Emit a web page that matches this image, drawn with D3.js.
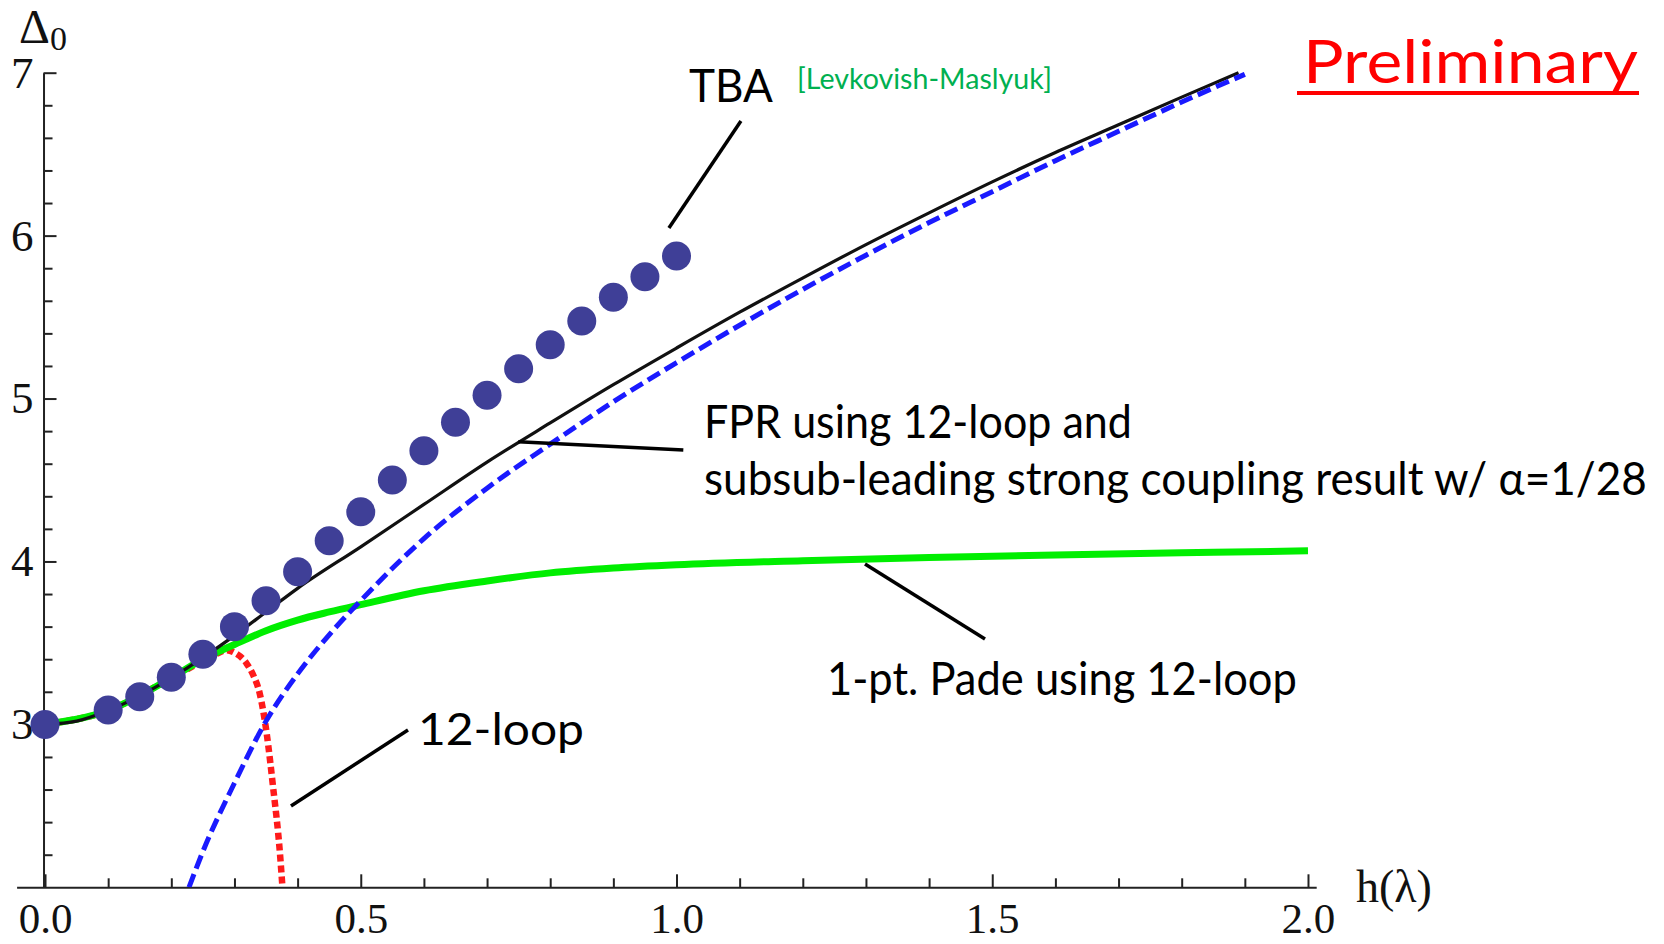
<!DOCTYPE html>
<html>
<head>
<meta charset="utf-8">
<script src="https://cdn.jsdelivr.net/npm/d3@7"></script>
<style>
  html, body { margin: 0; padding: 0; background: #fff; }
  svg { display: block; }
</style>
</head>
<body>
<div id="chart"></div>
<script>
// TBA data points (h, Delta0)
const tbaH = [0, 0.1, 0.15, 0.2, 0.25, 0.3, 0.35, 0.4, 0.45, 0.5, 0.55, 0.6, 0.65, 0.7, 0.75, 0.8, 0.85, 0.9, 0.95, 1.0];
const tbaD = [3.0, 3.088, 3.17, 3.29, 3.43, 3.60, 3.759, 3.937, 4.127, 4.305, 4.50, 4.68, 4.854, 5.02, 5.183, 5.33, 5.476, 5.621, 5.748, 5.875];

// FPR (black solid)
const fprH = [0, 0.05, 0.1, 0.15, 0.2, 0.25, 0.3, 0.35, 0.4, 0.5, 0.6, 0.7, 0.8, 0.9, 1.0, 1.1, 1.2, 1.3, 1.4, 1.5, 1.6, 1.7, 1.8, 1.89];
const fprD = [3.0, 3.02, 3.085, 3.175, 3.285, 3.41, 3.545, 3.69, 3.835, 4.09, 4.35, 4.61, 4.85, 5.085, 5.31, 5.53, 5.74, 5.945, 6.14, 6.33, 6.51, 6.68, 6.85, 7.0];

// strong coupling (blue dashed)
const strongH = [0.228, 0.25, 0.3, 0.35, 0.4, 0.45, 0.5, 0.6, 0.7, 0.8, 0.9, 1.0, 1.1, 1.2, 1.3, 1.4, 1.5, 1.6, 1.7, 1.8, 1.9];
const strongD = [2.0, 2.22, 2.64, 3.02, 3.31, 3.55, 3.76, 4.14, 4.45, 4.72, 4.98, 5.22, 5.45, 5.67, 5.88, 6.08, 6.27, 6.46, 6.64, 6.82, 6.99];

// 1-pt Pade (green)
const padeH = [0, 0.1, 0.2, 0.25, 0.3, 0.35, 0.4, 0.45, 0.5, 0.6, 0.7, 0.8, 0.9, 1.0, 1.2, 1.4, 1.6, 1.8, 2.0];
const padeD = [3.0, 3.085, 3.285, 3.40, 3.49, 3.575, 3.64, 3.69, 3.735, 3.82, 3.88, 3.93, 3.96, 3.98, 4.005, 4.025, 4.04, 4.053, 4.065];

// 12-loop (red dotted)
const loopH = [0, 0.1, 0.2, 0.25, 0.27, 0.288, 0.3, 0.319, 0.33, 0.34, 0.351, 0.361, 0.372, 0.376];
const loopD = [3.0, 3.085, 3.285, 3.39, 3.43, 3.455, 3.44, 3.375, 3.30, 3.19, 2.945, 2.62, 2.21, 2.0];

const xMajor = [0, 0.5, 1.0, 1.5, 2.0];
const xMinor = [0.1, 0.2, 0.3, 0.4, 0.6, 0.7, 0.8, 0.9, 1.1, 1.2, 1.3, 1.4, 1.6, 1.7, 1.8, 1.9];
const yMajor = [3, 4, 5, 6, 7];
const yMinor = [2.2, 2.4, 2.6, 2.8, 3.2, 3.4, 3.6, 3.8, 4.2, 4.4, 4.6, 4.8, 5.2, 5.4, 5.6, 5.8, 6.2, 6.4, 6.6, 6.8];

// leader lines, in data units
const leaders = [
  [[1.102, 6.704], [0.988, 6.047]],
  [[0.7495, 4.735], [1.0108, 4.684]],
  [[1.2985, 3.984], [1.4885, 3.524]],
  [[0.5748, 2.966], [0.3895, 2.499]]
];

const W = 1664, H = 944;
const svg = d3.select("#chart").append("svg").attr("width", W).attr("height", H);

const x = d3.scaleLinear().domain([-0.045, 2.013]).range([16.6, 1316.2]);
const y = d3.scaleLinear().domain([2, 7]).range([887.3, 72.7]);

svg.append("defs").append("clipPath").attr("id", "plot")
  .append("rect").attr("x", x(0) - 20).attr("y", y(7) - 2)
  .attr("width", x(2.013) - x(0) + 20).attr("height", y(2) - y(7) + 2);

const zip = (a, b) => a.map((v, i) => [v, b[i]]);
const line = d3.line().x(d => x(d[0])).y(d => y(d[1])).curve(d3.curveMonotoneX);

// axes
const serif = "'Liberation Serif', 'Times New Roman', serif";
const axisStyle = g => {
  g.selectAll("path, line").attr("stroke", "#222").attr("stroke-width", 2);
  g.selectAll("text").attr("font-family", serif).attr("font-size", 43).attr("fill", "#111");
};

const gx = svg.append("g").attr("transform", `translate(0,${y(2)})`);
gx.call(d3.axisBottom(x).tickValues(xMajor).tickSize(-13).tickSizeOuter(0).tickFormat(d3.format(".1f")))
  .call(axisStyle);
gx.selectAll("text").attr("y", 46).attr("dy", null);
gx.append("g").call(d3.axisBottom(x).tickValues(xMinor).tickSize(-9).tickFormat(""))
  .call(g => g.select(".domain").remove()).call(axisStyle);

const gy = svg.append("g").attr("transform", `translate(${x(0) - 1.5},0)`);
gy.call(d3.axisLeft(y).tickValues(yMajor).tickSize(-13).tickSizeOuter(0).tickPadding(10).tickFormat(d3.format("d")))
  .call(axisStyle);
gy.selectAll("text").attr("font-size", 45);
gy.append("g").call(d3.axisLeft(y).tickValues(yMinor).tickSize(-9).tickFormat(""))
  .call(g => g.select(".domain").remove()).call(axisStyle);

// axis labels
const yl = svg.append("text").attr("x", 19).attr("y", 43).attr("font-family", serif).attr("font-size", 48).attr("fill", "#111");
yl.append("tspan").text("\u0394");
yl.append("tspan").attr("font-size", 34).attr("dy", 7).text("0");
svg.append("text").attr("x", 1356).attr("y", 902).attr("font-family", serif).attr("font-size", 46)
  .attr("fill", "#111").text("h(\u03bb)");

// curves: 12-loop sits beneath the others
const plot = svg.append("g").attr("clip-path", "url(#plot)");
plot.append("path").datum(zip(loopH, loopD)).attr("d", line)
  .attr("fill", "none").attr("stroke", "#ff1a1a").attr("stroke-width", 6.5).attr("stroke-dasharray", "7,4");
plot.append("path").datum(zip(padeH, padeD)).attr("d", line)
  .attr("fill", "none").attr("stroke", "#00ee00").attr("stroke-width", 7);
plot.append("path").datum(zip(fprH, fprD)).attr("d", line)
  .attr("fill", "none").attr("stroke", "#111").attr("stroke-width", 3.2);
plot.append("path").datum(zip(strongH, strongD)).attr("d", line)
  .attr("fill", "none").attr("stroke", "#1a1aff").attr("stroke-width", 5).attr("stroke-dasharray", "14,6");

svg.append("g").selectAll("circle").data(zip(tbaH, tbaD)).enter().append("circle")
  .attr("cx", d => x(d[0])).attr("cy", d => y(d[1])).attr("r", 14.5)
  .attr("fill", "#3f3f97");

// leader lines
svg.append("g").selectAll("line").data(leaders).enter().append("line")
  .attr("x1", d => x(d[0][0])).attr("y1", d => y(d[0][1]))
  .attr("x2", d => x(d[1][0])).attr("y2", d => y(d[1][1]))
  .attr("stroke", "#000").attr("stroke-width", 3.5);

// annotation text, squeezed horizontally to the reference width
const sans = "Lato, 'Open Sans', sans-serif";
function label(txt, px, py, size, width, color) {
  const t = svg.append("text").attr("x", 0).attr("y", 0)
    .attr("font-family", sans).attr("font-size", size).attr("fill", color)
    .text(txt);
  const len = t.node().getComputedTextLength();
  t.attr("transform", `translate(${px},${py}) scale(${width / len},1)`);
}
label("TBA", 689, 102, 47, 84, "#000");
label("[Levkovish-Maslyuk]", 797, 89, 28, 255, "#00b050");
label("FPR using 12-loop and", 704, 438, 46, 428, "#000");
label("subsub-leading strong coupling result w/ \u03b1=1/28", 704, 495, 46, 943, "#000");
label("1-pt. Pade using 12-loop", 827, 695, 46, 470, "#000");
label("12-loop", 418, 745, 45, 166, "#000");
label("Preliminary", 1303, 83, 60, 335, "#ff0000");
svg.append("rect").attr("x", 1297).attr("y", 91).attr("width", 342).attr("height", 4).attr("fill", "#ff0000");
</script>
</body>
</html>
